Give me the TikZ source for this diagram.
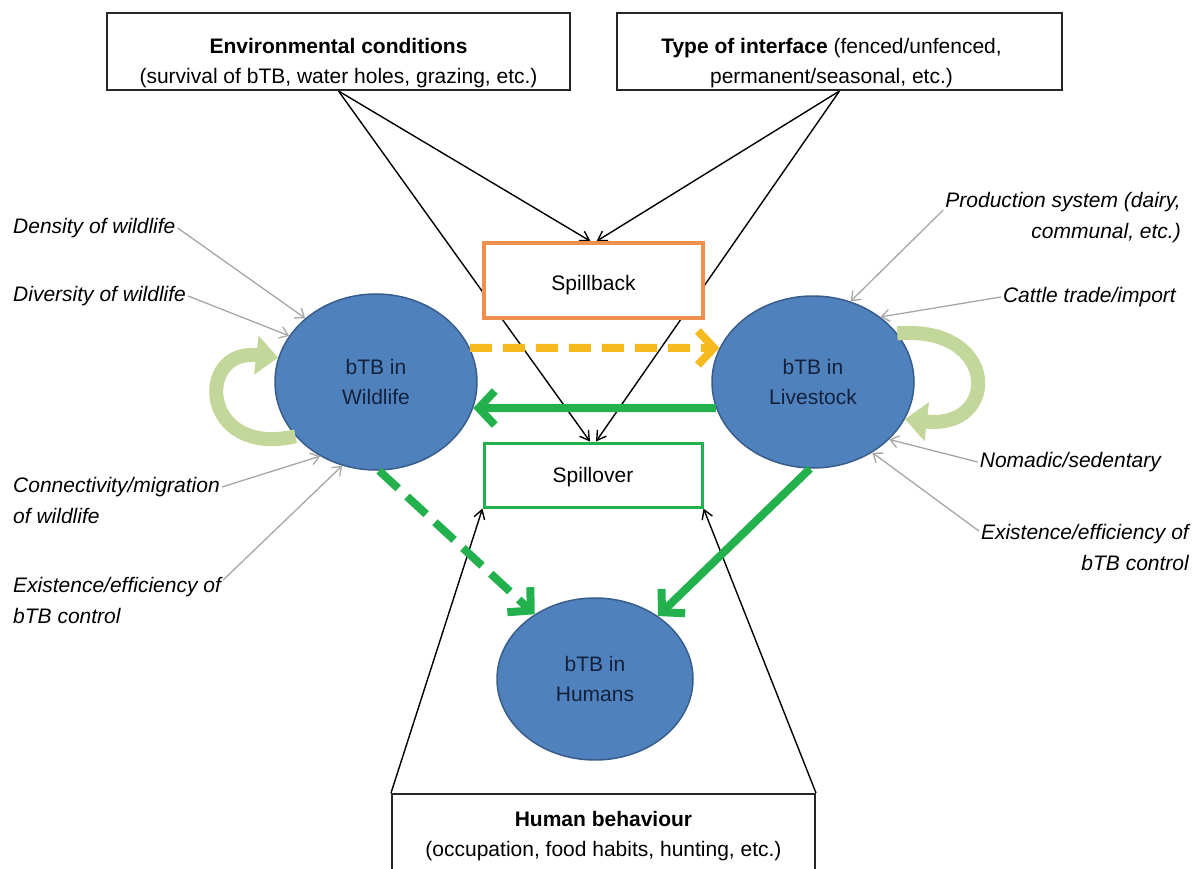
\documentclass[tikz,border=0pt]{standalone}
\usepackage{fontspec}
\setmainfont{Liberation Sans}
\usetikzlibrary{arrows.meta,positioning,shapes.geometric,backgrounds}

\definecolor{blobblue}{HTML}{4F81BD}
\definecolor{blobedge}{HTML}{385D8A}
\definecolor{blobtext}{HTML}{14213D}
\definecolor{backorange}{HTML}{F0904E}
\definecolor{overgreen}{HTML}{22B14C}
\definecolor{loopgreen}{HTML}{C4D79B}
\definecolor{spillyellow}{HTML}{F7BA1E}

\begin{document}
\begin{tikzpicture}[
  x=1pt, y=-1pt,
  font=\fontsize{21}{30}\selectfont,
  box/.style={draw=black!85, line width=2pt, fill=white, align=center, inner sep=0pt},
  blob/.style={ellipse, draw=blobedge, line width=1.5pt, fill=blobblue, align=center, text=blobtext, inner sep=0pt},
  factor/.style={font=\fontsize{21}{31}\selectfont\itshape, inner sep=2pt},
  infl/.style={-{Straight Barb[length=8pt,width=12pt]}, draw=black!35, line width=1.3pt},
  cause/.style={-{Straight Barb[length=9pt,width=11pt]}, line width=1.4pt},
  transmit/.style={-{Straight Barb[length=16pt,width=34pt]}, line width=8pt, draw=overgreen},
  selfloop/.style={-{Triangle[length=22pt,width=38pt]}, line width=14pt, draw=loopgreen}
]
\useasboundingbox (0,0) rectangle (1200,869);

% drivers at the interface
\node[box, minimum width=463pt, minimum height=77pt] (env) at (338.5,51.5) {\rule{0pt}{38pt}\textbf{Environmental conditions}\\(survival of bTB, water holes, grazing, etc.)};
\node[box, minimum width=445pt, minimum height=77pt] (iface) at (839.5,51.5) {\rule{0pt}{38pt}\textbf{Type of interface} (fenced/unfenced,\hspace*{16pt}\\permanent/seasonal, etc.)\hspace*{16pt}};
\node[box, draw=backorange, line width=3.5pt, minimum width=219pt, minimum height=75pt] (back) at (593.5,280.5) {\rule{0pt}{24pt}Spillback};
\node[box, draw=overgreen, line width=3pt, minimum width=218pt, minimum height=64pt] (over) at (593,475) {\rule{0pt}{20pt}Spillover};
\node[box, minimum width=423pt, minimum height=78pt, anchor=north] (habit) at (603.5,793) {\rule{0pt}{22pt}\textbf{Human behaviour}\\(occupation, food habits, hunting, etc.)};

% host populations
\node[blob, minimum width=202pt, minimum height=176pt] (wild) at (376,382) {bTB in\\Wildlife};
\node[blob, minimum width=202pt, minimum height=172pt] (live) at (813,382) {bTB in\\Livestock};
\node[blob, minimum width=196pt, minimum height=162pt] (hum) at (595,679) {bTB in\\Humans};

% risk factors
\node[factor, anchor=west] (dens) at (11,228) {Density of wildlife};
\node[factor, anchor=west] (divers) at (11,296) {Diversity of wildlife};
\node[factor, anchor=west, align=left] (conn) at (11,500) {Connectivity/migration\\of wildlife};
\node[factor, anchor=west, align=left] (wctrl) at (11,600) {Existence/efficiency of\\bTB control};
\node[factor, anchor=east, align=right] (prod) at (1183,218) {Production system (dairy,\\communal, etc.)};
\node[factor, anchor=east] (trade) at (1178,297) {Cattle trade/import};
\node[factor, anchor=east] (nomad) at (1163,462) {Nomadic/sedentary};
\node[factor, anchor=east, align=right] (lctrl) at (1191,547) {Existence/efficiency of\\bTB control};

\begin{scope}[on background layer]
\draw[cause] (env.south) -- ([xshift=-3pt]back.north);
\draw[cause] (env.south) -- ([xshift=-3pt]over.north);
\draw[cause] (iface.south) -- ([xshift=3pt]back.north);
\draw[cause] (iface.south) -- ([xshift=3pt]over.north);
\draw[cause] (habit.north west) -- (over.south west);
\draw[cause] (habit.north east) -- (over.south east);
\end{scope}

\draw[infl] (dens.east) -- (wild.138);
\draw[infl] (divers.east) -- (wild.152);
\draw[infl] ([yshift=13pt]conn.east) -- (wild.233);
\draw[infl] ([yshift=20pt]wctrl.east) -- (wild.248);
\draw[infl] ([yshift=8pt]prod.west) -- (live.65);
\draw[infl] (trade.west) -- (live.44);
\draw[infl] (nomad.west) -- (live.-37);
\draw[infl] ([yshift=16pt]lctrl.west) -- (live.-50);

% transmission
\draw[transmit, draw=spillyellow, dash pattern=on 22pt off 11pt] (wild.20) -- (live.160);
\draw[transmit] (live.195) -- (wild.-15);
\draw[transmit, dash pattern=on 26pt off 12pt] (wild.-88) -- (hum.133);
\draw[transmit] (live.-92) -- (hum.45);

\draw[selfloop] (wild.214) .. controls (200,458) and (195,348) .. (wild.166);
\draw[selfloop] (live.30) .. controls (1000,325) and (1000,430) .. (live.-22);
\end{tikzpicture}
\end{document}
